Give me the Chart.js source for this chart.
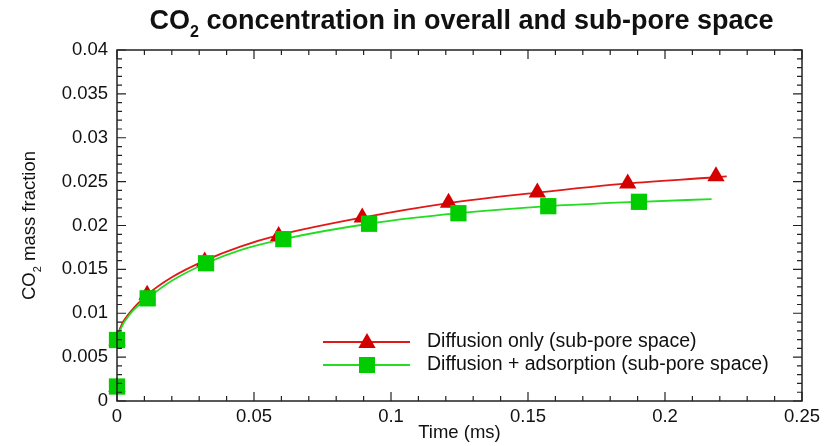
<!DOCTYPE html>
<html>
<head>
<meta charset="utf-8">
<script src="https://cdn.jsdelivr.net/npm/chart.js@4.4.1/dist/chart.umd.min.js"></script>
<style>
  html, body { margin: 0; padding: 0; background: #fff; }
  #wrap { width: 827px; height: 446px; position: relative; }
</style>
</head>
<body>
<div id="wrap"><canvas id="chart"></canvas></div>
<script>
// curve points (time in ms, CO2 mass fraction)
const redLineTime = [0, 0.001, 0.005, 0.011, 0.02, 0.032, 0.045, 0.059, 0.0895, 0.121, 0.1534, 0.1864, 0.2186, 0.2225];
const redLineValue = [0.0069, 0.0082, 0.0102, 0.0121, 0.0141, 0.0160, 0.0176, 0.0189, 0.0209, 0.02255, 0.02375, 0.0248, 0.0255, 0.0256];
const greenLineTime = [0, 0.001, 0.005, 0.0112, 0.02, 0.0325, 0.045, 0.0607, 0.092, 0.1246, 0.1574, 0.1905, 0.217];
const greenLineValue = [0.0069, 0.0080, 0.0100, 0.0117, 0.0137, 0.0157, 0.0172, 0.01845, 0.0202, 0.0214, 0.0222, 0.0227, 0.0230];

// marker points
const redMarkTime = [0, 0, 0.011, 0.032, 0.059, 0.0895, 0.121, 0.1534, 0.1864, 0.2186];
const redMarkValue = [0.0016, 0.0069, 0.0121, 0.0159, 0.0188, 0.0209, 0.02258, 0.02375, 0.0248, 0.0256];
const greenMarkTime = [0, 0, 0.0112, 0.0325, 0.0607, 0.092, 0.1246, 0.1574, 0.1905];
const greenMarkValue = [0.00165, 0.00695, 0.0117, 0.0157, 0.01845, 0.0202, 0.0214, 0.0222, 0.0227];

const legendLabels = ['Diffusion only (sub-pore space)', 'Diffusion + adsorption (sub-pore space)'];

const RED = '#d40000';
const RED_LINE = '#e01818';
const GREEN = '#00cc00';
const GREEN_LINE = '#22dd22';
const FONT = "'Liberation Sans', Arial, Helvetica, sans-serif";
const TXT = 18.5;

function pts(xs, ys) {
    return xs.map((x, i) => ({ x: x, y: ys[i] }));
}

function drawTriangle(ctx, x, y, r) {
    ctx.beginPath();
    ctx.moveTo(x, y - r);
    ctx.lineTo(x + Math.sin(Math.PI / 3) * r, y + r / 2);
    ctx.lineTo(x - Math.sin(Math.PI / 3) * r, y + r / 2);
    ctx.closePath();
    ctx.fill();
}

// text with a lowered small "2" after the first part
function subText(ctx, x, y, before, sub, after, size, bold) {
    const w = bold ? 'bold ' : '';
    ctx.font = w + size + 'px ' + FONT;
    const w1 = ctx.measureText(before).width;
    const w3 = ctx.measureText(after).width;
    ctx.font = w + Math.round(size * 0.6) + 'px ' + FONT;
    const w2 = ctx.measureText(sub).width;
    let cx = x - (w1 + w2 + w3) / 2;
    ctx.textAlign = 'left';
    ctx.textBaseline = 'alphabetic';
    ctx.font = w + size + 'px ' + FONT;
    ctx.fillText(before, cx, y);
    cx += w1;
    ctx.font = w + Math.round(size * 0.6) + 'px ' + FONT;
    ctx.fillText(sub, cx, y + size * 0.3);
    cx += w2;
    ctx.font = w + size + 'px ' + FONT;
    ctx.fillText(after, cx, y);
}

// frame, inward ticks, titles and legend
const decorPlugin = {
    id: 'decor',
    afterDatasetsDraw(chart) {
        const ctx = chart.ctx;
        const a = chart.chartArea;
        const xs = chart.scales.x;
        const ys = chart.scales.y;
        ctx.save();
        ctx.strokeStyle = '#222';
        ctx.lineWidth = 1.5;
        ctx.strokeRect(a.left, a.top, a.right - a.left, a.bottom - a.top);

        ctx.lineWidth = 1.2;
        const major = 9, minor = 5;
        // x ticks (bottom and top)
        const xStep = 0.05;
        for (let i = 0; i < xs.ticks.length; i++) {
            const v = xs.ticks[i].value;
            for (let k = 0; k < 5; k++) {
                const val = v + k * xStep / 5;
                if (val > xs.max + 1e-9) break;
                const px = xs.getPixelForValue(val);
                const len = k === 0 ? major : minor;
                ctx.beginPath();
                ctx.moveTo(px, a.bottom);
                ctx.lineTo(px, a.bottom - len);
                ctx.moveTo(px, a.top);
                ctx.lineTo(px, a.top + len);
                ctx.stroke();
            }
        }
        // y ticks (left and right)
        const yStep = 0.005;
        for (let i = 0; i < ys.ticks.length; i++) {
            const v = ys.ticks[i].value;
            for (let k = 0; k < 5; k++) {
                const val = v + k * yStep / 5;
                if (val > ys.max + 1e-9) break;
                const py = ys.getPixelForValue(val);
                const len = k === 0 ? major : minor;
                ctx.beginPath();
                ctx.moveTo(a.left, py);
                ctx.lineTo(a.left + len, py);
                ctx.moveTo(a.right, py);
                ctx.lineTo(a.right - len, py);
                ctx.stroke();
            }
        }

        // chart title
        ctx.fillStyle = '#111';
        subText(ctx, (a.left + a.right) / 2 + 2, 29, 'CO', '2', ' concentration in overall and sub-pore space', 27, true);

        // y axis title, rotated
        ctx.save();
        ctx.translate(35, (a.top + a.bottom) / 2);
        ctx.rotate(-Math.PI / 2);
        subText(ctx, 0, 0, 'CO', '2', ' mass fraction', TXT, false);
        ctx.restore();

        // legend
        const lx0 = 323, lx1 = 410, mx = 367, tx = 427;
        const rows = [
            { y: 342, line: RED_LINE, mark: RED, kind: 'tri' },
            { y: 365, line: GREEN_LINE, mark: GREEN, kind: 'sq' }
        ];
        rows.forEach((r, i) => {
            ctx.strokeStyle = r.line;
            ctx.lineWidth = 1.8;
            ctx.beginPath();
            ctx.moveTo(lx0, r.y);
            ctx.lineTo(lx1, r.y);
            ctx.stroke();
            ctx.fillStyle = r.mark;
            if (r.kind === 'tri') {
                drawTriangle(ctx, mx, r.y + 1, 10);
            } else {
                ctx.fillRect(mx - 8, r.y - 8, 16, 16);
            }
            ctx.fillStyle = '#111';
            ctx.font = '19.5px ' + FONT;
            ctx.textAlign = 'left';
            ctx.textBaseline = 'middle';
            ctx.fillText(legendLabels[i], tx, r.y);
        });
        ctx.restore();
    }
};

const ctx = document.getElementById('chart').getContext('2d');
const chart = new Chart(ctx, {
    type: 'scatter',
    data: {
        datasets: [
            {
                type: 'line',
                data: pts(redLineTime, redLineValue),
                borderColor: RED_LINE,
                borderWidth: 1.8,
                pointRadius: 0,
                cubicInterpolationMode: 'monotone',
                fill: false,
                clip: false,
                order: 3
            },
            {
                type: 'line',
                data: pts(greenLineTime, greenLineValue),
                borderColor: GREEN_LINE,
                borderWidth: 1.8,
                pointRadius: 0,
                cubicInterpolationMode: 'monotone',
                fill: false,
                clip: false,
                order: 2
            },
            {
                data: pts(redMarkTime, redMarkValue),
                showLine: false,
                pointStyle: 'triangle',
                pointRadius: 10,
                pointBackgroundColor: RED,
                pointBorderWidth: 0,
                clip: false,
                order: 1
            },
            {
                data: pts(greenMarkTime, greenMarkValue),
                showLine: false,
                pointStyle: 'rect',
                pointRadius: 11.5,
                pointBackgroundColor: GREEN,
                pointBorderWidth: 0,
                clip: false,
                order: 0
            }
        ]
    },
    options: {
        responsive: true,
        maintainAspectRatio: false,
        animation: false,
        layout: {
            padding: { top: 50, right: 25, left: 0, bottom: 0 }
        },
        plugins: {
            legend: { display: false },
            title: { display: false },
            tooltip: { enabled: false }
        },
        scales: {
            x: {
                type: 'linear',
                min: 0,
                max: 0.25,
                afterFit: s => { s.height = 45; },
                ticks: {
                    stepSize: 0.05,
                    padding: 5,
                    maxRotation: 0,
                    color: '#111',
                    font: { family: FONT, size: TXT },
                    callback: v => String(Number(v.toFixed(4)))
                },
                grid: { display: true, drawOnChartArea: false, drawTicks: false, color: 'rgba(0,0,0,0)' },
                border: { display: false },
                title: {
                    display: true,
                    text: 'Time (ms)',
                    color: '#111',
                    font: { family: FONT, size: TXT },
                    padding: { top: 0, bottom: 2 }
                }
            },
            y: {
                type: 'linear',
                min: 0,
                max: 0.04,
                afterFit: s => { s.width = 117; },
                ticks: {
                    stepSize: 0.005,
                    padding: 9,
                    color: '#111',
                    font: { family: FONT, size: TXT },
                    callback: v => String(Number(v.toFixed(4)))
                },
                grid: { display: true, drawOnChartArea: false, drawTicks: false, color: 'rgba(0,0,0,0)' },
                border: { display: false }
            }
        }
    },
    plugins: [decorPlugin]
});
</script>
</body>
</html>
